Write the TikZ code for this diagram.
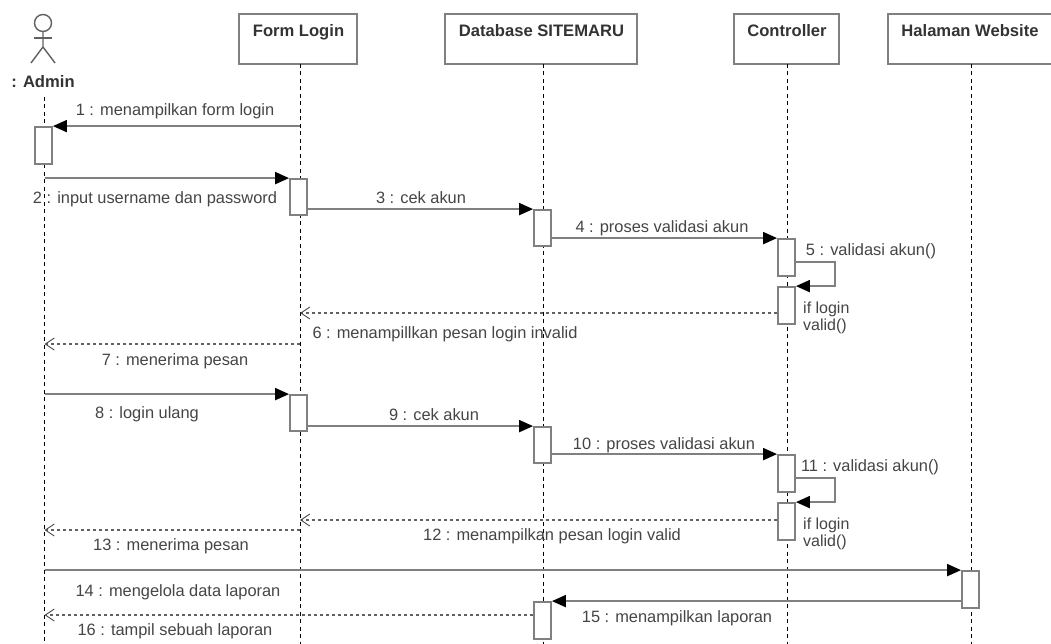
\documentclass[tikz,border=0pt]{standalone}
\usepackage{fontspec}
\setmainfont{Liberation Sans}
\usetikzlibrary{arrows.meta}

\definecolor{umlline}{gray}{0.5}
\definecolor{umldash}{gray}{0.38}
\definecolor{umltext}{gray}{0.27}

\tikzset{
	lifebox/.style = {draw = umlline, line width = 2pt, fill = white, minimum height = 50pt},
	lifeline/.style = {black, line width = 1pt, dash pattern = on 4pt off 3.5pt},
	activation/.style = {draw = umlline, line width = 1.8pt, fill = white, minimum width = 17pt, inner sep = 0pt},
	msg/.style = {draw = umlline, line width = 1.9pt, -{Triangle[length = 14pt, width = 12pt, black]}},
	reply/.style = {draw = umldash, line width = 1.2pt, dash pattern = on 3.5pt off 2.5pt, -{Straight Barb[length = 9pt, width = 12pt, black!70, line width = 0.9pt]}},
	msglabel/.style = {text = umltext, font = \fontsize{16.4}{16.4}\selectfont, inner sep = 0pt, text height = 11pt, text depth = 3pt},
	headlabel/.style = {text = black!80, font = \fontsize{16.6}{16.6}\selectfont\bfseries, inner sep = 0pt, text height = 11pt, text depth = 3pt},
	notelabel/.style = {text = umltext, align = left, anchor = north west, inner sep = 0pt, font = \fontsize{16}{16.5}\selectfont}
}

\begin{document}
\begin{tikzpicture}[x = 1pt, y = -1pt]

	\useasboundingbox [fill = white] (0, 0) rectangle (1051, 644);
	\coordinate (bottom) at (0, 644);

	% Admin actor

	\coordinate (admintop) at (44.5, 97);
	\draw [umldash, line width = 1.4pt] (43, 23) circle (8.5);
	\draw [umldash, line width = 1.4pt] (43, 31.5) -- (43, 47) -- (31, 63);
	\draw [umldash, line width = 1.4pt] (43, 47) -- (55, 63);
	\draw [umldash, line width = 1.4pt] (34, 38) -- (52, 38);
	\node [headlabel] (admin) at (43, 84) {: Admin};

	% Lifeline heads

	\node [lifebox, minimum width = 118pt] (login) at (298, 39) {};
	\node [lifebox, minimum width = 192pt] (database) at (541, 39) {};
	\node [lifebox, minimum width = 105pt] (controller) at (786.5, 39) {};
	\begin{scope}
		\clip (0, 0) rectangle (1051, 644);
		\node [lifebox, minimum width = 166pt] (website) at (971, 39) {};
	\end{scope}

	\node [headlabel] (logintext) at (298.5, 33) {Form Login};
	\node [headlabel] (databasetext) at (541.5, 33) {Database SITEMARU};
	\node [headlabel] (controllertext) at (787, 33) {Controller};
	\node [headlabel] (websitetext) at (970, 33) {Halaman Website};

	% Lifelines

	\draw [lifeline] (admintop) -- (admintop |- bottom);
	\coordinate (loginx) at (300, 64);
	\coordinate (databasex) at (543.5, 64);
	\coordinate (controllerx) at (787.5, 64);
	\coordinate (websitex) at (971, 64);

	\foreach \head in {login, database, controller, website}
	{
		\draw [lifeline] (\head x) -- (\head x |- bottom);
	}

	% Activation bars

	\node [activation, minimum height = 37pt] (barA) at (43.5, 145.5) {};
	\node [activation, minimum height = 36pt] (barB) at (298.5, 197) {};
	\node [activation, minimum height = 36pt] (barC) at (542.5, 228) {};
	\node [activation, minimum height = 37pt] (barD) at (786.5, 257.5) {};
	\node [activation, minimum height = 37pt] (barE) at (786.5, 305.5) {};
	\node [activation, minimum height = 36pt] (barF) at (298.5, 413) {};
	\node [activation, minimum height = 36pt] (barG) at (542.5, 445) {};
	\node [activation, minimum height = 37pt] (barH) at (786.5, 473.5) {};
	\node [activation, minimum height = 37pt] (barI) at (786.5, 521.5) {};
	\node [activation, minimum height = 37pt] (barJ) at (970.5, 589.5) {};
	\node [activation, minimum height = 37pt] (barK) at (542.5, 620.5) {};

	% Messages

	\draw [msg] (loginx |- barA.north) -- (barA.north east);
	\draw [msg] (admintop |- barB.north) -- (barB.north west);
	\draw [msg] (barB.east |- barC.north) -- (barC.north west);
	\draw [msg] (barC.east |- barD.north) -- (barD.north west);
	\coordinate (loop5) at (0, 262);
	\draw [msg] (barD.east |- loop5) -- ++ (39, 0) |- (barE.north east);
	\coordinate (reply6) at (0, 313);
	\draw [reply] (barE.west |- reply6) -- (loginx |- reply6);
	\coordinate (reply7) at (0, 344);
	\draw [reply] (loginx |- reply7) -- (admintop |- reply7);

	\draw [msg] (admintop |- barF.north) -- (barF.north west);
	\draw [msg] (barF.east |- barG.north) -- (barG.north west);
	\draw [msg] (barG.east |- barH.north) -- (barH.north west);
	\coordinate (loop11) at (0, 478);
	\draw [msg] (barH.east |- loop11) -- ++ (39, 0) |- (barI.north east);
	\coordinate (reply12) at (0, 520);
	\draw [reply] (barI.west |- reply12) -- (loginx |- reply12);
	\coordinate (reply13) at (0, 530);
	\draw [reply] (loginx |- reply13) -- (admintop |- reply13);

	\draw [msg] (admintop |- barJ.north) -- (barJ.north west);
	\draw [msg] (barJ.west |- barK.north) -- (barK.north east);
	\coordinate (reply16) at (0, 615);
	\draw [reply] (barK.west |- reply16) -- (admintop |- reply16);

	% Message texts

	\node [msglabel] (text1) at (175, 112) {1 : menampilkan form login};
	\node [msglabel] (text2) at (155, 200) {2 : input username dan password};
	\node [msglabel] (text3) at (421, 200) {3 : cek akun};
	\node [msglabel] (text4) at (662, 229) {4 : proses validasi akun};
	\node [msglabel] (text5) at (871, 251) {5 : validasi akun()};
	\node [notelabel] (note1) at (803, 302) {if login\\valid()};
	\node [msglabel] (text6) at (445, 334) {6 : menampillkan pesan login invalid};
	\node [msglabel] (text7) at (175, 361) {7 : menerima pesan};
	\node [msglabel] (text8) at (147, 414) {8 : login ulang};
	\node [msglabel] (text9) at (434, 416) {9 : cek akun};
	\node [msglabel] (text10) at (664, 445) {10 : proses validasi akun};
	\node [msglabel] (text11) at (870, 467) {11 : validasi akun()};
	\node [notelabel] (note2) at (803, 518) {if login\\valid()};
	\node [msglabel] (text12) at (552, 536) {12 : menampilkan pesan login valid};
	\node [msglabel] (text13) at (171, 546) {13 : menerima pesan};
	\node [msglabel] (text14) at (178, 592) {14 : mengelola data laporan};
	\node [msglabel] (text15) at (677, 618) {15 : menampilkan laporan};
	\node [msglabel] (text16) at (175, 631) {16 : tampil sebuah laporan};

\end{tikzpicture}
\end{document}
